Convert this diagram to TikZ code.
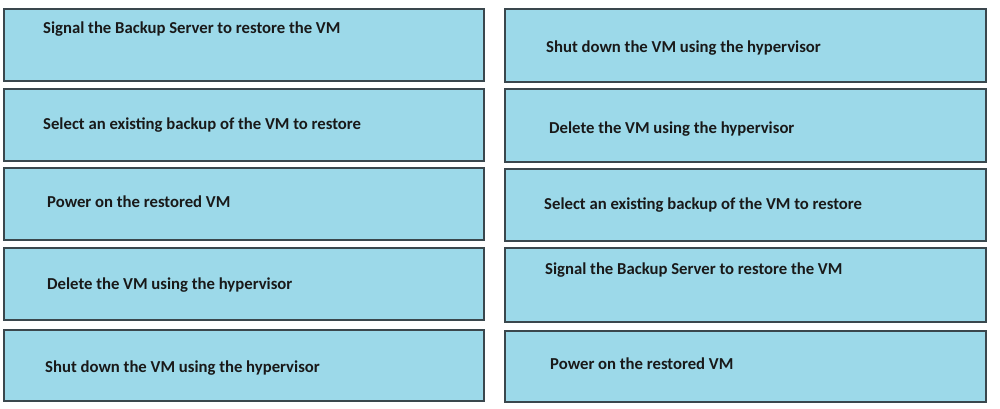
\documentclass[tikz,border=0pt]{standalone}
\usepackage{fontspec}
\setmainfont{Carlito}
\definecolor{boxfill}{HTML}{9CD9E9}
\definecolor{boxline}{HTML}{3A474D}
\begin{document}
\begin{tikzpicture}[x=1pt,y=-1pt,
  card/.style={draw=boxline,fill=boxfill,line width=1.1pt},
  lbl/.style={anchor=base west,inner sep=0pt,font=\fontsize{16.7}{20}\selectfont\bfseries,text=black!90}]
\useasboundingbox (0,0) rectangle (1000,409);
% left column
\draw[card] (4,9) rectangle (484,81);
\draw[card] (4,89) rectangle (484,161);
\draw[card] (4,168) rectangle (484,240);
\draw[card] (4,248) rectangle (484,320);
\draw[card] (4,330) rectangle (484,401);
% right column
\draw[card] (505,9) rectangle (986,82);
\draw[card] (505,89) rectangle (986,162);
\draw[card] (505,169) rectangle (986,241);
\draw[card] (505,248) rectangle (986,322);
\draw[card] (505,331) rectangle (986,402);
% labels
\node[lbl] (l1) at (43,34) {Signal the Backup Server to restore the VM};
\node[lbl] (l2) at (43,129) {Select an existing backup of the VM to restore};
\node[lbl] (l3) at (47,207) {Power on the restored VM};
\node[lbl] (l4) at (47,289) {Delete the VM using the hypervisor};
\node[lbl] (l5) at (45,372) {Shut down the VM using the hypervisor};
\node[lbl] (r1) at (546,53) {Shut down the VM using the hypervisor};
\node[lbl] (r2) at (549,133) {Delete the VM using the hypervisor};
\node[lbl] (r3) at (544,209) {Select an existing backup of the VM to restore};
\node[lbl] (r4) at (545,274) {Signal the Backup Server to restore the VM};
\node[lbl] (r5) at (550,369) {Power on the restored VM};
\end{tikzpicture}
\end{document}
